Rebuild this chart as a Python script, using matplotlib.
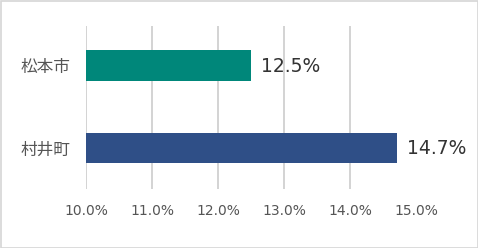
import matplotlib
matplotlib.use("Agg")
import matplotlib.pyplot as plt
from matplotlib.patches import Rectangle

plt.rcParams['font.family'] = ['Noto Sans CJK JP', 'DejaVu Sans']

categories = ["村井町", "松本市"]
values = [14.7, 12.5]
colors = ["#2f4f87", "#00877a"]
xticks = [10.0, 11.0, 12.0, 13.0, 14.0, 15.0]
xtick_labels = ["10.0%", "11.0%", "12.0%", "13.0%", "14.0%", "15.0%"]

fig = plt.figure(figsize=(4.78, 2.48), dpi=100)
fig.patch.set_facecolor("white")
fig.patches.append(Rectangle((0.5/478, 0.5/248), 1 - 1/478, 1 - 1/248, transform=fig.transFigure,
                             fill=False, edgecolor="#d6d6d6", linewidth=1.2))

ax = fig.add_axes([86/478, 1 - 189/248, (416.5 - 86)/478, (189 - 26)/248])
ypos = list(range(len(categories)))
ax.barh(ypos, [v - 10 for v in values], left=10, height=0.37, color=colors, zorder=3)
ax.set_xlim(10, 15)
ax.set_ylim(-0.50, 1.48)
ax.set_xticks(xticks)
ax.set_xticklabels(xtick_labels, fontsize=10, color="#555555", family=['DejaVu Sans'])
ax.set_yticks(ypos)
ax.set_yticklabels(categories, fontsize=12, color="#555555")
ax.tick_params(axis="both", length=0)
ax.tick_params(axis="x", pad=10.5)
ax.tick_params(axis="y", pad=11.5)
ax.grid(axis="x", color="#cccccc", linewidth=1.2, zorder=0)
for s in ax.spines.values():
    s.set_visible(False)

for y, v in zip(ypos, values):
    ax.text(v + 0.15, y - 0.01, f"{v:.1f}%", va="center", ha="left", fontsize=13.5, color="#333333",
            family=['DejaVu Sans'])

fig.savefig("out.png", dpi=100, facecolor="white")
